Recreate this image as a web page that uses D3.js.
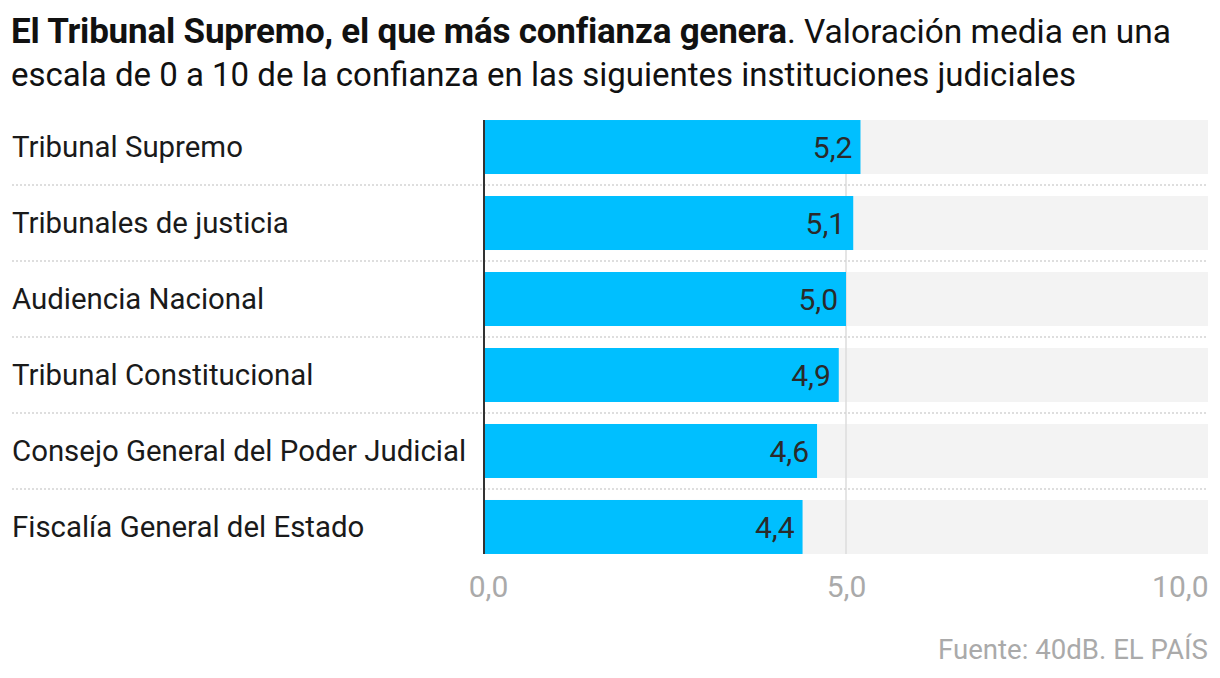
<!DOCTYPE html>
<html><head><meta charset="utf-8">
<script src="https://cdn.jsdelivr.net/npm/d3@7"></script>
<style>
body{margin:0;background:#fff;}
svg text{font-family:Roboto,"Noto Sans",sans-serif;}
</style></head>
<body><svg id="c" width="1220" height="678"></svg>
<script>
const categories = ["Tribunal Supremo","Tribunales de justicia","Audiencia Nacional","Tribunal Constitucional","Consejo General del Poder Judicial","Fiscalía General del Estado"];
const values = [5.2,5.1,5.0,4.9,4.6,4.4];
const tickValues = [0,5,10];
const titleBold = "El Tribunal Supremo, el que más confianza genera";
const titleRest = ". Valoración media en una";
const titleLine2 = "escala de 0 a 10 de la confianza en las siguientes instituciones judiciales";
const source = "Fuente: 40dB. EL PAÍS";

const svg = d3.select("#c");
const fmt = v => d3.format(".1f")(v).replace(".", ",");
const x = d3.scaleLinear().domain([0,10]).range([484,1208]);
const y = d3.scaleBand().domain(categories).range([109,565]).paddingInner(0.2895).paddingOuter(0.145);

// title
const t1 = svg.append("text").attr("x",11).attr("y",43).attr("font-size",33.5).attr("fill","#111");
t1.append("tspan").attr("font-weight",700).attr("font-size",35).attr("letter-spacing",-0.2).text(titleBold);
t1.append("tspan").attr("font-weight",400).text(titleRest);
svg.append("text").attr("x",11).attr("y",86).attr("font-size",33).attr("fill","#111").text(titleLine2);

// background bands
svg.append("g").selectAll("rect").data(categories).join("rect")
  .attr("x",x(0)).attr("width",x(10)-x(0))
  .attr("y",d=>y(d)).attr("height",y.bandwidth()).attr("fill","#f3f3f3");

// gridline at 5
svg.append("g").selectAll("line").data(tickValues.filter(v=>v>0 && v<10)).join("line")
  .attr("x1",d=>x(d)).attr("x2",d=>x(d)).attr("y1",y(categories[0])).attr("y2",y(categories[5])+y.bandwidth())
  .attr("stroke","#dcdcdc").attr("stroke-width",1.5);

// dotted separators
const step = y.step();
svg.append("g").selectAll("line").data(categories.slice(1)).join("line")
  .attr("x1",12).attr("x2",x(10))
  .attr("y1",d=>y(d)-(step-y.bandwidth())/2).attr("y2",d=>y(d)-(step-y.bandwidth())/2)
  .attr("stroke","#d4d4d4").attr("stroke-width",1.5).attr("stroke-dasharray","2,2");

// bars
svg.append("g").selectAll("rect").data(values).join("rect")
  .attr("x",x(0)).attr("y",(d,i)=>y(categories[i]))
  .attr("width",d=>x(d)-x(0)).attr("height",y.bandwidth()).attr("fill","#00bfff");

// value labels
svg.append("g").selectAll("text").data(values).join("text")
  .attr("x",d=>x(d)-8).attr("y",(d,i)=>y(categories[i])+y.bandwidth()/2+11)
  .attr("text-anchor","end").attr("font-size",30).attr("fill","#2a2a2a").text(fmt);

// category labels
svg.append("g").selectAll("text").data(categories).join("text")
  .attr("x",12).attr("y",d=>y(d)+y.bandwidth()/2+10)
  .attr("font-size",29.4).attr("fill","#1a1a1a").text(d=>d);

// zero axis
svg.append("line").attr("x1",x(0)).attr("x2",x(0)).attr("y1",y(categories[0])).attr("y2",y(categories[5])+y.bandwidth())
  .attr("stroke","#333").attr("stroke-width",2);

// x axis ticks
const ax = svg.append("g").attr("transform","translate(0,594)")
  .call(d3.axisBottom(x).tickValues(tickValues).tickFormat(fmt).tickSize(0));
ax.select(".domain").remove();
ax.selectAll("text").attr("font-size",30).attr("fill","#aaa").attr("font-family","Roboto").attr("dy",0)
  .attr("text-anchor",(d)=>d===10?"end":"middle");
ax.selectAll("text").filter(d=>d===0).attr("dx",4);

svg.append("text").attr("x",1208).attr("y",659).attr("text-anchor","end").attr("font-size",27.6).attr("fill","#aaa").text(source);
</script></body></html>
